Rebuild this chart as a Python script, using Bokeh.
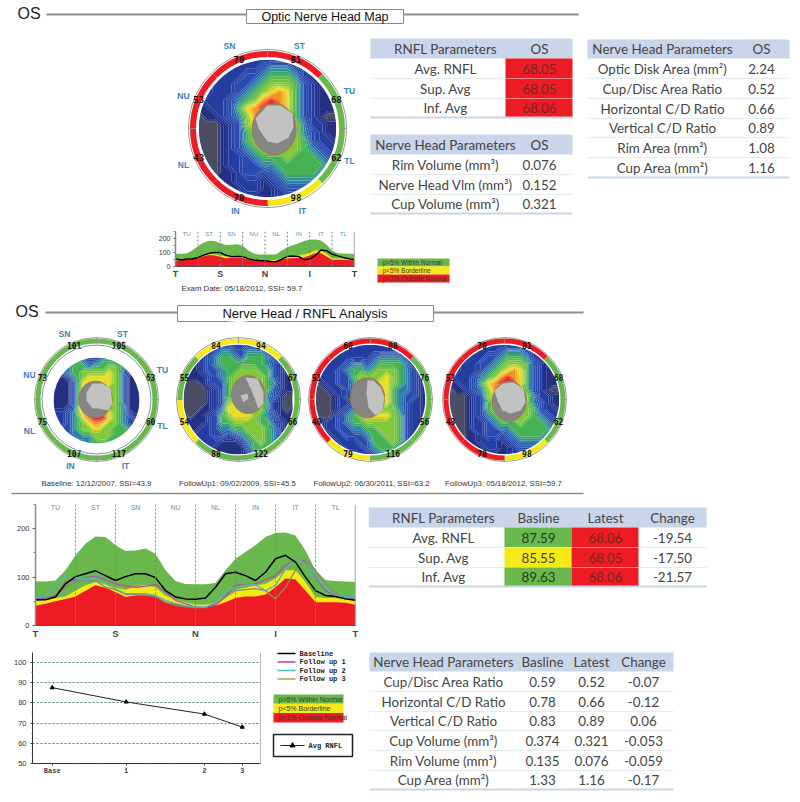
import math
import numpy as np
from bokeh.plotting import figure
from bokeh.layouts import column, row
from bokeh.models import Range1d, FixedTicker, Span, Title, Spacer
from bokeh.core.properties import value
from bokeh.embed import file_html
from bokeh.resources import INLINE

# ---------------- colours ----------------
GREEN, YELLOW, RED = "#6ab84d", "#f5e919", "#ed1c24"
HEAD = "#c9d6ea"
HEAT_PALETTE = ["#54545e", "#1c2a88", "#2540a4", "#2a4cb0", "#2b86aa", "#48b54c",
                "#86c83a", "#ecdf24", "#f59222", "#e62020"]
TABLE_FONT = "Lato"

# ---------------- profile data ----------------
SECTOR_POS = [0, .25, .5, .75, 1, 1.25, 1.5, 1.75, 2, 2.25, 2.5, 2.75, 3, 3.25, 3.5, 3.75, 4,
              4.25, 4.5, 4.75, 5, 5.25, 5.5, 5.75, 6, 6.25, 6.5, 6.75, 7, 7.25, 7.5, 7.75, 8]
NORM_RED = [41, 45, 50, 55, 60, 72, 83, 78, 69, 59, 62, 63, 62, 48, 45, 41, 37,
            37, 41, 48, 57, 60, 60, 64, 79, 97, 95, 72, 48, 48, 48, 47, 43]
NORM_YELLOW = [50, 53, 57, 60, 72, 83, 90, 86, 78, 74, 81, 83, 79, 62, 53, 48, 43,
               43, 48, 60, 74, 78, 83, 86, 97, 114, 114, 90, 59, 57, 57, 55, 52]
NORM_GREEN = [91, 91, 93, 114, 145, 169, 184, 183, 166, 154, 155, 159, 148, 114, 92, 86, 85,
              85, 88, 114, 138, 152, 166, 183, 191, 192, 186, 155, 114, 94, 92, 91, 90]
BASELINE = [53, 53, 59, 86, 101, 107, 113, 103, 93, 101, 107, 107, 99, 72, 59, 55, 54,
            57, 79, 107, 110, 103, 93, 110, 138, 145, 131, 100, 72, 62, 60, 55, 52]
FOLLOW1 = [55, 57, 62, 90, 94, 99, 101, 95, 86, 82, 79, 81, 85, 69, 52, 45, 38,
           38, 42, 60, 83, 85, 86, 94, 103, 124, 138, 131, 100, 72, 60, 55, 55]
FOLLOW2 = [59, 60, 83, 101, 97, 97, 99, 86, 76, 66, 66, 66, 62, 52, 45, 41, 38,
           38, 48, 69, 79, 84, 84, 72, 83, 117, 138, 128, 103, 76, 62, 59, 60]
FOLLOW3 = [55, 56, 62, 79, 90, 92, 93, 79, 74, 64, 64, 63, 60, 48, 41, 39, 37,
           37, 45, 59, 72, 74, 76, 72, 55, 79, 114, 138, 114, 86, 66, 55, 53]
LATEST = [53, 46, 53, 56, 65, 80, 94, 100, 100, 80, 72, 74, 72, 55, 46, 42, 41,
          36, 34, 52, 72, 75, 72, 48, 53, 77, 118, 113, 89, 76, 65, 55, 48]
SECTORS = ["TU", "ST", "SN", "NU", "NL", "IN", "IT", "TL"]
AXIS_LABELS = {0: "T", 2: "S", 4: "N", 6: "I", 8: "T"}

# ---------------- trend data ----------------
TREND_DAYS = [0, 630, 1296, 1619]
TREND_AVG = [87.59, 80.5, 74.5, 68.05]
TREND_LABELS = {0: "Base", 630: "1", 1296: "2", 1619: "3"}

HEAT_BASE = ["333444322344443333", "334445433455554333", "334455545556654222", "333455666667653212",
             "211245677777653111", "111135777777653111", "111135787776653111", "111135887776653111",
             "111135887766653111", "111135998766653111", "111236999876654111", "222346899987654211",
             "322345789997654322", "222345678876654333", "223345667766555433", "233344556666555443",
             "333334445665555543", "333333345555555443"]
HEAT_FU1 = ["112233332233221111", "112233443344432111", "112234554355542111", "111234555555543211",
            "111233455666553211", "111123456666653211", "000123356666654211", "000012356666653211",
            "000012356666643100", "000012367666642100", "000112477766642101", "101123567776543111",
            "111123556666553211", "111223445566654211", "112223323456654311", "112222111245654311",
            "111221111135554211", "111111111124443211"]
HEAT_FU2 = ["111222222222211111", "111222222222222111", "112222222344443211", "112223443455554221",
            "122234554566654321", "122233566667654321", "012233466677654321", "001223466677544321",
            "000123356667543321", "000122356667543221", "000123456666643221", "100234567777653221",
            "112234556666653221", "112233445566653221", "111223334556653211", "111122233555653211",
            "111112223455542211", "111111122344322111"]
HEAT_FU3 = ["111222222222221111", "111222223444322111", "112222334555421111", "112223345666532111",
            "112223456787532111", "122234568987532111", "112235789997532111", "011234687776532100",
            "000123676666642211", "000123566666643211", "000123566666653221", "000123456776654322",
            "000122345556555432", "100122334455555543", "100112332345555432", "111112221234444322",
            "111111221123333221", "111111111122222111"]

# ---------------- sector values / ring classes, clockwise from ST ----------------
RING_ORDER = ["ST", "TU", "TL", "IT", "IN", "NL", "NU", "SN"]
VALS_BASE = [105, 63, 60, 117, 107, 75, 73, 101]
VALS_FU1 = [94, 67, 66, 122, 88, 54, 55, 84]
VALS_FU2 = [88, 76, 56, 116, 79, 40, 51, 68]
VALS_FU3 = [81, 68, 62, 98, 70, 43, 53, 70]
RING_BASE = "GGGGGGGG"
RING_FU1 = "YGGGGYGY"
RING_FU2 = "RGGGYRRR"
RING_FU3 = "RGGYRRRR"

# ---------------- cup outlines ----------------
CUP_TOP = dict(ell=(273.7, 128.7, 22, 25.5),
               lite=[[(255, 118), (267, 105), (280, 105), (292, 113), (293, 127), (288, 137), (277, 143), (267, 141), (258, 128)]])
CUP_BASE = dict(ell=(95, 399, 16.7, 18.3),
                lite=[[(86, 392), (92, 383), (102, 383), (110, 388), (112, 403), (108, 410), (98, 408), (92, 408), (86, 400)]])
CUP_FU1 = dict(ell=(247.7, 394, 16.7, 19),
               lite=[[(245, 377), (257, 378), (263, 392), (263, 403), (258, 408), (251, 390)],
                     [(240, 395), (247, 393), (248, 398), (243, 402)]])
CUP_FU2 = dict(ell=(367, 397.3, 17, 20),
               lite=[[(367, 380), (373, 380), (380, 387), (384, 397), (382, 410), (375, 415), (368, 407), (366, 393)]])
CUP_FU3 = dict(ell=(508.7, 400.7, 17, 20),
               lite=[[(494, 390), (502, 383), (513, 382), (523, 388), (525, 402), (520, 410), (510, 413), (502, 410), (497, 400)]])

# ---------------- tables ----------------
T1_HEAD = ["RNFL Parameters", "OS"]
T1_ROWS = [["Avg. RNFL", "68.05"], ["Sup. Avg", "68.05"], ["Inf. Avg", "68.06"]]
T2_HEAD = ["Nerve Head Parameters", "OS"]
T2_ROWS = [["Rim Volume (mm³)", "0.076"], ["Nerve Head Vlm (mm³)", "0.152"], ["Cup Volume (mm³)", "0.321"]]
T3_HEAD = ["Nerve Head Parameters", "OS"]
T3_ROWS = [["Optic Disk Area (mm²)", "2.24"], ["Cup/Disc Area Ratio", "0.52"], ["Horizontal C/D Ratio", "0.66"],
           ["Vertical C/D Ratio", "0.89"], ["Rim Area (mm²)", "1.08"], ["Cup Area (mm²)", "1.16"]]
T4_HEAD = ["RNFL Parameters", "Basline", "Latest", "Change"]
T4_ROWS = [["Avg. RNFL", "87.59", "68.06", "-19.54"], ["Sup. Avg", "85.55", "68.05", "-17.50"],
           ["Inf. Avg", "89.63", "68.06", "-21.57"]]
T5_HEAD = ["Nerve Head Parameters", "Basline", "Latest", "Change"]
T5_ROWS = [["Cup/Disc Area Ratio", "0.59", "0.52", "-0.07"], ["Horizontal C/D Ratio", "0.78", "0.66", "-0.12"],
           ["Vertical C/D Ratio", "0.83", "0.89", "0.06"], ["Cup Volume (mm³)", "0.374", "0.321", "-0.053"],
           ["Rim Volume (mm³)", "0.135", "0.076", "-0.059"], ["Cup Area (mm²)", "1.33", "1.16", "-0.17"]]
LEGEND_BANDS = ["p>5% Within Normal", "p<5% Borderline", "p<1% Outside Normal"]
LEGEND_LINES = ["Baseline", "Follow up 1", "Follow up 2", "Follow up 3"]
LEGEND_COLORS = ["#000000", "#c0408c", "#4fbcbc", "#b0a050"]
CAPTIONS = ["Baseline: 12/12/2007, SSI=43.9", "FollowUp1: 09/02/2009, SSI=45.5",
            "FollowUp2: 06/30/2011, SSI=63.2", "FollowUp3: 05/18/2012, SSI=59.7"]


# ---------------- helpers ----------------
def canvas(x0, x1, y0, y1):
    p = figure(width=x1 - x0, height=y1 - y0, x_range=Range1d(x0, x1), y_range=Range1d(y1, y0),
               toolbar_location=None, output_backend="svg", min_border=0, outline_line_color=None,
               frame_align=False)
    p.axis.visible = False
    p.grid.visible = False
    return p


def txt(p, x, y, s, size=13.4, color="#444444", font=TABLE_FONT, align="center", style="normal", base="middle"):
    p.text([x], [y], text=[s], text_font=value(font), text_font_size=f"{size}px", text_color=color,
           text_align=align, text_baseline=base, text_font_style=style)


def table(p, x0, x1, edges, centers, head, rows, fills=None, size=13.4):
    p.quad(left=[x0], right=[x1], top=[edges[0]], bottom=[edges[1]], fill_color=HEAD, line_color=None)
    for i, r in enumerate(rows):
        yt, yb = edges[i + 1], edges[i + 2]
        for j, s in enumerate(r):
            col = "#444444"
            if fills and fills[i][j]:
                xl, xr, col_fill, col = fills[i][j]
                p.quad(left=[xl], right=[xr], top=[yt], bottom=[yb], fill_color=col_fill, line_color=None)
            txt(p, centers[j], (yt + yb) / 2, s, size, col)
        if i < len(rows) - 1:
            p.segment([x0], [yb], [x1], [yb], line_color="#e6ebf3", line_width=1)
    p.segment([x0], [edges[-1]], [x1], [edges[-1]], line_color=HEAD, line_width=2)
    for j, s in enumerate(head):
        txt(p, centers[j], (edges[0] + edges[1]) / 2, s, size, "#444444")


def shade(v):
    i = min(int(v), 8)
    t = v - i
    a, b = HEAT_PALETTE[i], HEAT_PALETTE[i + 1]
    ch = [round(int(a[k:k + 2], 16) * (1 - t) + int(b[k:k + 2], 16) * t) for k in (1, 3, 5)]
    return "#%02x%02x%02x" % tuple(ch)


def heat(p, grid, cx, cy, r):
    z = np.array([[int(c) for c in rowstr] for rowstr in grid], dtype=float)
    xs = np.linspace(cx - r, cx + r, z.shape[1])
    ys = np.linspace(cy - r, cy + r, z.shape[0])
    levels = [-0.01] + [0.34 * k for k in range(1, 27)] + [9.01]
    fills = [shade(max(0.0, min(9.0, (levels[k] + levels[k + 1]) / 2))) for k in range(len(levels) - 1)]
    p.contour(xs, ys, z, levels, fill_color=fills, line_color=None)
    p.annulus(x=[cx], y=[cy], inner_radius=r, outer_radius=r * 1.43, fill_color="white", line_color=None)


def ring(p, cx, cy, r_in, r_out, r_line, classes, vals, vr, size=8, sectors_text=None):
    cmap = {"G": GREEN, "Y": YELLOW, "R": RED}
    p.circle(x=[cx], y=[cy], radius=r_line, fill_color=None, line_color="#9a9a9a", line_width=1)
    for i, c in enumerate(classes):
        start = math.radians(45 - 45 * i)
        end = math.radians(90 - 45 * i)
        p.annular_wedge(x=[cx], y=[cy], inner_radius=r_in, outer_radius=r_out, start_angle=start, end_angle=end,
                        fill_color=cmap[c], line_color=None)
        mid = math.radians(67.5 - 45 * i)
        txt(p, cx + vr * math.cos(mid), cy - vr * math.sin(mid), str(vals[i]), size, "#111111", "DejaVu Sans Mono", style="bold")
    p.segment([cx - r_line, cx + r_in, cx, cx], [cy, cy, cy - r_line, cy + r_in],
              [cx - r_in, cx + r_line, cx, cx], [cy, cy, cy - r_in, cy + r_line], line_color="#8a8a8a", line_width=0.8)


def cup(p, c):
    x, y, a, b = c["ell"]
    p.ellipse(x=[x], y=[y], width=[2 * a], height=[2 * b], fill_color="#858585", line_color="#a5774a", line_width=1)
    for poly in c["lite"]:
        p.patch([q[0] for q in poly], [q[1] for q in poly], fill_color="#c2c2c2", line_color=None)


def header(p, yl, y_os, x_os, x_a, x_b, x_c, x_d, y0, y1, title, size):
    txt(p, x_os, y_os, "OS", 16, "#222222", "Liberation Sans", align="left")
    p.segment([x_a, x_c], [yl, yl], [x_b, x_d], [yl, yl], line_color="#8f8f88", line_width=2)
    p.quad(left=[x_b], right=[x_c], top=[y0], bottom=[y1], fill_color="white", line_color="#8a8a8a", line_width=1)
    txt(p, (x_b + x_c) / 2, (y0 + y1) / 2, title, size, "#111111", "Liberation Sans")


def sector_labels(p, cx, cy, offs):
    for name, (dx, dy) in offs.items():
        txt(p, cx + dx, cy + dy, name, 8.5, "#3b7fc0", "Liberation Sans", style="bold")


def profile(width, height, l, r, t, b, lab_y, tick_size, lab_size, lines):
    f = figure(width=width, height=height, x_range=Range1d(0, 8), y_range=Range1d(0, 250),
               toolbar_location=None, output_backend="svg", min_border_left=l, min_border_right=r,
               min_border_top=t, min_border_bottom=b, outline_line_color=None, frame_align=False)
    f.varea(SECTOR_POS, [0] * 33, NORM_GREEN, fill_color=GREEN)
    f.varea(SECTOR_POS, [0] * 33, NORM_YELLOW, fill_color=YELLOW)
    f.varea(SECTOR_POS, [0] * 33, NORM_RED, fill_color=RED)
    for i in range(1, 8):
        f.add_layout(Span(location=i, dimension="height", line_color="#6f86a0", line_width=1, line_dash="2 2"))
    f.add_layout(Span(location=8, dimension="height", line_color="#8a8a8a", line_width=1.5))
    for ys, col, w in lines:
        f.line(SECTOR_POS, ys, line_color=col, line_width=w)
    f.text([i + 0.5 for i in range(8)], [lab_y] * 8, text=SECTORS, text_font=value("Liberation Sans"),
           text_font_size=f"{lab_size}px", text_color="#5b8fc4", text_align="center", text_baseline="middle")
    f.grid.visible = False
    f.xaxis.ticker = FixedTicker(ticks=list(AXIS_LABELS))
    f.xaxis.major_label_overrides = AXIS_LABELS
    f.xaxis.major_label_text_font = "Liberation Sans"
    f.xaxis.major_label_text_font_style = "bold"
    f.xaxis.major_label_text_font_size = f"{tick_size + 2}px"
    f.xaxis.major_tick_line_color = None
    f.xaxis.minor_tick_line_color = None
    f.xaxis.major_tick_out = 0
    f.xaxis.minor_tick_out = 0
    f.xaxis.axis_line_color = "#555555"
    f.xaxis.major_label_standoff = 2
    f.yaxis.ticker = FixedTicker(ticks=[0, 100, 200], minor_ticks=[50, 150, 250])
    f.yaxis.major_label_text_font = "Liberation Sans"
    f.yaxis.major_label_text_font_size = f"{tick_size}px"
    f.yaxis.major_label_text_color = "#333333"
    f.yaxis.axis_line_color = "#8a8a8a"
    f.yaxis.axis_line_width = 1.5
    f.yaxis.major_tick_line_color = "#666666"
    f.yaxis.minor_tick_line_color = "#888888"
    f.yaxis.major_tick_out = 3
    f.yaxis.major_tick_in = 0
    f.yaxis.minor_tick_out = 2
    f.yaxis.minor_tick_in = 0
    f.yaxis.major_label_standoff = 3
    return f


def band_legend(p, x0, x1, y0, h, size):
    for i, (lab, col) in enumerate(zip(LEGEND_BANDS, [GREEN, YELLOW, RED])):
        p.quad(left=[x0], right=[x1], top=[y0 + i * h], bottom=[y0 + (i + 1) * h], fill_color=col, line_color=None)
        txt(p, x0 + 5, y0 + (i + .5) * h, lab, size, "#3a3a20", "Liberation Sans", align="left")


# ---------------- strip A : map + three tables ----------------
A = canvas(0, 800, 0, 228)
header(A, 14, 13, 17, 46, 246, 403, 578, 9, 23, "Optic Nerve Head Map", 12.5)
heat(A, HEAT_FU3, 267, 128, 68.7)
ring(A, 267, 128, 71.5, 77.5, 79, RING_FU3, VALS_FU3, 74.5, 9)
cup(A, CUP_TOP)
sector_labels(A, 267, 128, {"SN": (-38, -83), "ST": (32, -83), "TU": (82, -38), "TL": (82, 32),
                            "NU": (-84, -33), "NL": (-84, 36), "IN": (-32, 82), "IT": (35, 82)})
RED_CELL = (505, 572, RED, "#7a2420")
table(A, 370, 572, [38, 58, 78, 98, 117], [445, 539], T1_HEAD, T1_ROWS,
      fills=[[None, RED_CELL]] * 3)
table(A, 370, 572, [134, 154, 174, 194, 213], [445, 539], T2_HEAD, T2_ROWS)
table(A, 587, 789, [39, 58, 78, 98, 118, 137, 157, 177], [662, 761], T3_HEAD, T3_ROWS)

# ---------------- strip B : small profile + legend ----------------
small = profile(220, 67, 25, 16, 3, 29, 235, 7, 6, [(LATEST, "#000000", 1.5)])
small.yaxis.major_tick_out = 2
small.add_layout(Title(text="Exam Date: 05/18/2012, SSI= 59.7", align="left", offset=6, standoff=0,
                       text_font="Liberation Sans", text_font_size="7.8px", text_font_style="normal",
                       text_color="#333333"), "below")
B = canvas(370, 800, 228, 295)
band_legend(B, 377, 449, 258, 8, 6.5)

# ---------------- strip C : four discs ----------------
C = canvas(0, 800, 295, 495)
header(C, 312, 311, 15, 45, 177, 433, 583, 305, 321, "Nerve Head / RNFL Analysis", 13)
heat(C, HEAT_BASE, 96, 400, 43)
heat(C, HEAT_FU1, 238, 399, 55)
heat(C, HEAT_FU2, 370, 399, 54.7)
heat(C, HEAT_FU3, 504, 399, 54.7)
ring(C, 96, 399, 56, 61, 62, RING_BASE, VALS_BASE, 58.5)
C.circle(x=[96], y=[399], radius=54.5, fill_color=None, line_color="#7f90a8", line_width=1)
ring(C, 238, 399, 56, 61, 62, RING_FU1, VALS_FU1, 58.5)
ring(C, 370, 399, 56, 61, 62, RING_FU2, VALS_FU2, 58.5)
ring(C, 504, 399, 56, 61, 62, RING_FU3, VALS_FU3, 58.5)
for c in (CUP_BASE, CUP_FU1, CUP_FU2, CUP_FU3):
    cup(C, c)
sector_labels(C, 96, 399, {"SN": (-32, -66), "ST": (26, -66), "TU": (66, -30), "TL": (66, 26),
                           "NU": (-67, -25), "NL": (-67, 31), "IN": (-26, 66), "IT": (29, 66)})
for x, s in zip([96, 237, 371, 503], CAPTIONS):
    txt(C, x, 483, s, 7.8, "#333333", "Liberation Sans")
C.segment([11], [493], [583], [493], line_color="#8f8f88", line_width=1.5)

# ---------------- strip D : big profile + table ----------------
big = profile(368, 148, 35, 13, 9, 18, 244, 7.5, 7,
              [(FOLLOW3, "#8a8a70", 1.3), (FOLLOW1, "#b050a0", 1.3), (FOLLOW2, "#4fb8c0", 1.3), (BASELINE, "#000000", 1.5)])
D = canvas(368, 800, 495, 643)
G_C, Y_C, R_C = "#24401c", "#4a4410", "#7a2420"
c1 = lambda col, txtc: (504, 571, col, txtc)
c2 = (571, 638, RED, R_C)
fills4 = [[None, c1(GREEN, G_C), c2, None], [None, c1(YELLOW, Y_C), c2, None], [None, c1(GREEN, G_C), c2, None]]
table(D, 368, 706, [507, 527, 547, 567, 586], [443, 538, 605, 672], T4_HEAD, T4_ROWS, fills=fills4)

# ---------------- divider ----------------
DV = canvas(0, 800, 643, 647)
DV.segment([11], [645], [583], [645], line_color="#a0a09a", line_width=1.5)

# ---------------- strip E : trend + legend + table ----------------
tr = figure(width=268, height=147, x_range=Range1d(-168, 1774), y_range=Range1d(50, 105),
            toolbar_location=None, output_backend="svg", min_border_left=32, min_border_right=8,
            min_border_top=5, min_border_bottom=31, outline_line_color=None, frame_align=False)
tr.line(TREND_DAYS, TREND_AVG, line_color="#222222", line_width=1)
tr.scatter(TREND_DAYS, TREND_AVG, marker="triangle", size=4, color="#000000")
tr.add_layout(Span(location=1774, dimension="height", line_color="#777777", line_width=1))
tr.xgrid.visible = False
tr.ygrid.ticker = FixedTicker(ticks=[60, 70, 80, 90, 100])
tr.ygrid.grid_line_color = "#4d7c7c"
tr.ygrid.grid_line_dash = "2 2"
tr.ygrid.grid_line_width = 1
tr.xaxis.ticker = FixedTicker(ticks=TREND_DAYS, minor_ticks=[200, 400, 800, 1000, 1500])
tr.xaxis.major_label_overrides = TREND_LABELS
tr.xaxis.major_label_text_font = "Liberation Mono"
tr.xaxis.major_label_text_font_size = "7px"
tr.xaxis.major_label_text_font_style = "bold"
tr.xaxis.major_label_standoff = 1
tr.yaxis.ticker = FixedTicker(ticks=[50, 60, 70, 80, 90, 100], minor_ticks=[55, 65, 75, 85, 95])
tr.yaxis.major_label_text_font = "Liberation Sans"
tr.yaxis.major_label_text_font_size = "7.5px"
tr.yaxis.major_label_text_color = "#333333"
tr.axis.axis_line_color = "#333333"
tr.axis.major_tick_line_color = "#444444"
tr.axis.minor_tick_line_color = "#777777"
tr.axis.major_tick_out = 2
tr.axis.major_tick_in = 0
tr.axis.minor_tick_out = 1
tr.axis.minor_tick_in = 0
tr.yaxis.major_label_standoff = 4

E = canvas(268, 800, 647, 794)
for i, (lab, col) in enumerate(zip(LEGEND_LINES, LEGEND_COLORS)):
    y = 653 + 8.5 * i
    E.segment([277], [y], [295], [y], line_color=col, line_width=1.5)
    txt(E, 299, y, lab, 7, "#222222", "Liberation Mono", align="left", style="bold")
band_legend(E, 273, 343, 694, 9.3, 7)
E.quad(left=[273], right=[352], top=[734], bottom=[756], fill_color="white", line_color="#222222", line_width=1.5)
E.segment([280], [745], [304], [745], line_color="#222222", line_width=1)
E.scatter([292], [745], marker="triangle", size=5, color="#000000")
txt(E, 308, 745, "Avg RNFL", 7, "#222222", "Liberation Mono", align="left", style="bold")
table(E, 369, 673, [652, 671, 691, 711, 730, 750, 770, 789], [443, 542, 591, 643], T5_HEAD, T5_ROWS)

# ---------------- page ----------------
page = column(
    A,
    row(Spacer(width=150, height=67), small, B),
    C,
    row(big, D),
    DV,
    row(tr, E),
    spacing=0,
)
open("out.html", "w").write(file_html(page, INLINE))
